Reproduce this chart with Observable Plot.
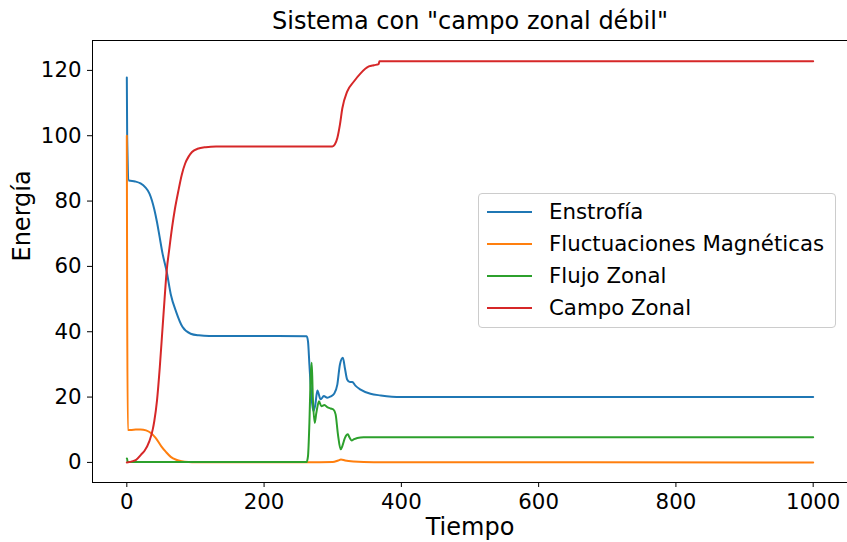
<!DOCTYPE html>
<html>
<head>
<meta charset="utf-8">
<script src="https://cdn.jsdelivr.net/npm/d3@7"></script>
<script src="https://cdn.jsdelivr.net/npm/@observablehq/plot@0.6"></script>
<style>
  body { margin: 0; background: #fff; }
  #wrap { position: relative; width: 847px; height: 542px; font-family: "DejaVu Sans", sans-serif; }
  #legend { position: absolute; left: 478px; top: 193px; width: 358px; height: 135px;
    border: 1px solid #cccccc; border-radius: 4px; background: rgba(255,255,255,0.8); box-sizing: border-box; }
  .row { position: absolute; left: 0; height: 0; }
  .sw { position: absolute; left: 8px; width: 45px; height: 0; border-top: 2px solid; transform: translateY(-1px); }
  .lb { position: absolute; left: 70px; white-space: nowrap; font-size: 21.3px; line-height: 1; transform: translateY(-50%); color: #000; }
</style>
</head>
<body>
<div id="wrap"><div id="legend"></div></div>
<script>
const title = 'Sistema con "campo zonal débil"';
const xLabel = "Tiempo";
const yLabel = "Energía";
const xTicks = [0, 200, 400, 600, 800, 1000];
const yTicks = [0, 20, 40, 60, 80, 100, 120];
const names = ["Enstrofía", "Fluctuaciones Magnéticas", "Flujo Zonal", "Campo Zonal"];
const colors = ["#1f77b4", "#ff7f0e", "#2ca02c", "#d62728"];

// Enstrofía
const enstT = [0, 0.5, 3, 12, 20, 27, 33, 40, 44, 47.4, 52, 58, 64, 72, 81, 93, 105, 120, 160, 220, 262, 264, 266, 268, 270, 271.8, 274.5, 277.6, 282.4, 287, 292, 297, 302, 306.7, 310.5, 314.8, 318, 321, 325, 328.5, 333, 340.6, 355, 370, 399, 450, 1000];
const enstV = [117.8, 100, 86.3, 86, 85.4, 84.2, 82.3, 77.5, 73.5, 69.5, 64, 58.5, 51.5, 46, 41.5, 39.4, 38.9, 38.7, 38.7, 38.7, 38.6, 37, 30, 23, 18, 15.7, 17.5, 22, 19.3, 20.3, 19.8, 20.2, 21, 23.8, 30, 32, 28.5, 25.4, 24.6, 24.6, 23.5, 22.3, 21, 20.5, 20.0, 20.0, 20.0];

// Fluctuaciones Magnéticas
const fluctT = [0, 0.5, 1.5, 10, 20, 28, 35, 42, 50, 57, 64, 72, 80, 90, 100, 262, 300, 308, 312, 318, 330, 360, 1000];
const fluctV = [100, 50, 9.9, 10.0, 10.1, 9.8, 9.0, 7.5, 5.0, 3.2, 1.7, 0.8, 0.35, 0.1, 0.02, 0.02, 0.1, 0.6, 0.9, 0.6, 0.3, 0.05, 0.0];

// Flujo Zonal
const flujoT = [0, 0.5, 1, 262, 264, 266, 268, 269.4, 271, 273.7, 276, 280, 283.4, 288, 292, 297, 301, 304.2, 307.6, 311.5, 314, 317.8, 322, 324.5, 327.5, 331, 335.8, 345, 1000];
const flujoV = [1.2, 1.2, 0.1, 0.1, 2, 12, 27, 30.5, 20, 12.1, 15, 18.7, 17.2, 17.6, 16.9, 16.5, 16.2, 14.7, 8.6, 4, 5, 7.5, 8.6, 7.6, 6.7, 7.1, 7.5, 7.7, 7.7];

// Campo Zonal
const campoT = [0, 8.7, 13.5, 20.8, 25.6, 32.9, 37.8, 40, 44, 48, 52, 55, 58, 62, 66, 70, 75, 80, 85, 90, 95, 103, 115, 130, 299.4, 303, 306.7, 310.5, 314, 321, 330.8, 340.6, 352.6, 360, 367, 368, 1000];
const campoV = [0, 0.4, 0.8, 2.4, 3.5, 6.5, 10.1, 12.6, 19, 29, 41, 50, 58.5, 65.5, 72, 77.5, 83, 88, 91.5, 93.6, 95, 96.0, 96.5, 96.7, 96.7, 97.3, 99.3, 103.4, 108.4, 113.5, 116.6, 119.1, 121.2, 121.6, 121.9, 122.8, 122.8];

const series = [[enstT, enstV], [fluctT, fluctV], [flujoT, flujoV], [campoT, campoV]];
const rows = [];
series.forEach(([ts, vs], i) => ts.forEach((t, j) => rows.push({t, v: vs[j], s: names[i]})));

const chart = Plot.plot({
  width: 847,
  height: 542,
  marginLeft: 92,
  marginRight: 0,
  marginTop: 40,
  marginBottom: 60,
  style: {fontFamily: "DejaVu Sans", fontSize: "21.3px", color: "black", background: "white"},
  x: {domain: [-50, 1050]},
  y: {domain: [-6.15, 129.15]},
  color: {domain: names, range: colors},
  marks: [
    Plot.line(rows, {x: "t", y: "v", z: "s", stroke: "s", strokeWidth: 2, curve: "monotone-x"}),
    Plot.frame({stroke: "black", strokeWidth: 1}),
    Plot.axisX({ticks: xTicks, tickSize: 5, tickPadding: 6, label: null, tickFormat: d => String(d)}),
    Plot.axisY({ticks: yTicks, tickSize: 5, tickPadding: 6, label: null, tickFormat: d => String(d)}),
    Plot.text([xLabel], {text: d => d, frameAnchor: "bottom", lineAnchor: "middle", dy: 45, fontSize: 24}),
    Plot.text([yLabel], {text: d => d, frameAnchor: "left", lineAnchor: "middle", dx: -70, rotate: -90, fontSize: 24}),
    Plot.text([title], {text: d => d, frameAnchor: "top", lineAnchor: "middle", dy: -19, fontSize: 24})
  ]
});
document.getElementById("wrap").prepend(chart);

const legend = document.getElementById("legend");
const rowTops = [17.7, 50.0, 82.2, 114.4];
names.forEach((n, i) => {
  const r = document.createElement("div");
  r.className = "row";
  r.style.top = rowTops[i] + "px";
  const sw = document.createElement("div");
  sw.className = "sw";
  sw.style.borderTopColor = colors[i];
  const lb = document.createElement("div");
  lb.className = "lb";
  lb.textContent = n;
  r.append(sw, lb);
  legend.append(r);
});
</script>
</body>
</html>
